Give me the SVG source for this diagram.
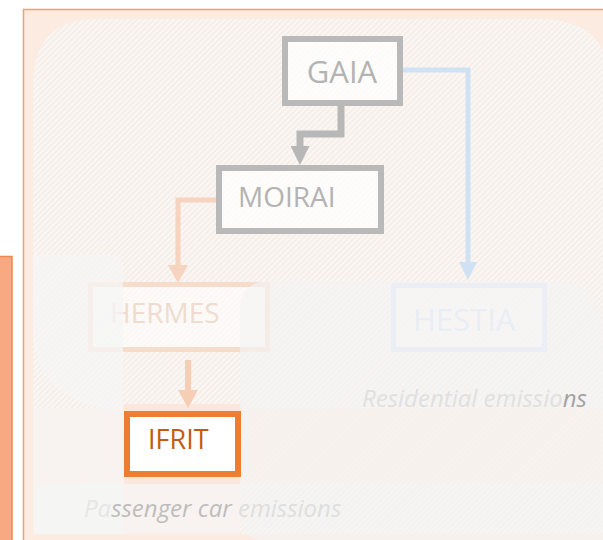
<svg xmlns="http://www.w3.org/2000/svg" width="603" height="540" viewBox="0 0 603 540">
<style>
.lbl{font-family:"Open Sans","Liberation Sans",sans-serif;}
.cap{font-family:"Open Sans","Liberation Sans",sans-serif;font-style:italic;font-size:24px;}
</style>
<defs>
<pattern id="hatch" patternUnits="userSpaceOnUse" width="4" height="4" patternTransform="rotate(-45)">
<rect width="4" height="4" fill="#f5eee9"/>
<rect y="0" width="4" height="1.6" fill="#fcf9f7"/>
</pattern>
<marker id="mGray" markerUnits="userSpaceOnUse" markerWidth="19" markerHeight="19" refX="0" refY="9.5" orient="auto">
<path d="M0,0 L19,9.5 L0,19 Z" fill="#b7b7b7"/>
</marker>
<marker id="mBlue" markerUnits="userSpaceOnUse" markerWidth="18" markerHeight="18" refX="0" refY="9" orient="auto">
<path d="M0,0 L18,9 L0,18 Z" fill="#cfe1f2"/>
</marker>
<marker id="mPeach" markerUnits="userSpaceOnUse" markerWidth="18" markerHeight="20" refX="0" refY="10" orient="auto">
<path d="M0,0 L18,10 L0,20 Z" fill="#f6d4bf"/>
</marker>
<marker id="mPeach2" markerUnits="userSpaceOnUse" markerWidth="18" markerHeight="20" refX="0" refY="10" orient="auto">
<path d="M0,0 L18,10 L0,20 Z" fill="#f6cdb5"/>
</marker>
</defs>

<!-- background -->
<rect x="0" y="0" width="603" height="540" fill="#ffffff"/>
<rect x="23.5" y="9.5" width="600" height="540" fill="#fcebe1" stroke="#f3a06b" stroke-width="1.5"/>
<rect x="-2" y="256.5" width="14" height="290" fill="#f8a982" stroke="#ee8748" stroke-width="1.5"/>
<path d="M98,19 H540 Q610,19 610,85 V534 H41 Q33,534 33,526 V84 Q33,19 98,19 Z" fill="url(#hatch)"/>
<rect x="33" y="408" width="207" height="126" fill="#f8f3f0"/>
<rect x="124" y="404" width="117" height="80" fill="#fce7dc"/>

<!-- connectors -->
<g id="connectors" fill="none">
<path d="M341,106 V134 H300 V146" stroke="#b7b7b7" stroke-width="7" marker-end="url(#mGray)"/>
<path d="M403,70 H468 V262" stroke="#cfe1f2" stroke-width="5" marker-end="url(#mBlue)"/>
<path d="M218,200 H178 V265" stroke="#f6d4bf" stroke-width="5" marker-end="url(#mPeach)"/>
<path d="M188,360 V390" stroke="#f6cdb5" stroke-width="6" marker-end="url(#mPeach2)"/>
</g>

<!-- nodes -->
<g id="node-gaia">
<rect x="285" y="39" width="115" height="64" fill="#ffffff" fill-opacity="0.75" stroke="#b9b9b9" stroke-width="6"/>
<text class="lbl" x="342" y="83" font-size="31" text-anchor="middle" fill="#b3b3b3">GAIA</text>
</g>
<g id="node-moirai">
<rect x="219" y="168" width="162" height="63" fill="#ffffff" fill-opacity="0.75" stroke="#b9b9b9" stroke-width="6"/>
<text class="lbl" x="238" y="207" font-size="28" fill="#b3b3b3">MOIRAI</text>
</g>
<g id="node-hermes">
<rect x="90.5" y="284.5" width="177" height="65" fill="#ffffff" fill-opacity="0.5" stroke="#f6dccb" stroke-width="5"/>
<text class="lbl" x="110" y="323" font-size="28" fill="#efdccf">HERMES</text>
</g>
<g id="node-hestia">
<rect x="393.5" y="285.5" width="151" height="64" fill="#ffffff" fill-opacity="0.4" stroke="#d8e4f8" stroke-width="5"/>
<text class="lbl" x="413" y="331" font-size="31" fill="#d2e0f4">HESTIA</text>
</g>

<!-- translucent overlay panels -->
<path d="M33,255 H110 Q123,255 123,268 V410 H112 Q40,400 33,340 Z" fill="#f5f5f5" fill-opacity="0.75"/>
<path d="M35,486 Q80,482 123,483 V534 H35 Z" fill="#f5f5f5" fill-opacity="0.85"/>
<path d="M270,281 H553 Q603,281 603,330 V540 H265 Q240,540 240,515 V311 Q240,281 270,281 Z" fill="#f3f3f3" fill-opacity="0.68"/>
<rect x="240" y="408" width="363" height="75" fill="#fbeee6" fill-opacity="0.3"/>

<g id="node-ifrit">
<rect x="127" y="414" width="111" height="60" fill="#ffffff" stroke="#ed7d31" stroke-width="6"/>
<text class="lbl" x="148" y="449" font-size="27" fill="#c55a11">IFRIT</text>
</g>

<!-- captions -->
<text class="cap" x="362" y="407" fill="#e0e0e0">Residential emissio<tspan fill="#a3a3a3">ns</tspan></text>
<text class="cap" x="84" y="517" fill="#bdbdbd"><tspan fill="#e6e6e6">Pa</tspan>ssenger car <tspan fill="#dedede">emissions</tspan></text>
</svg>
